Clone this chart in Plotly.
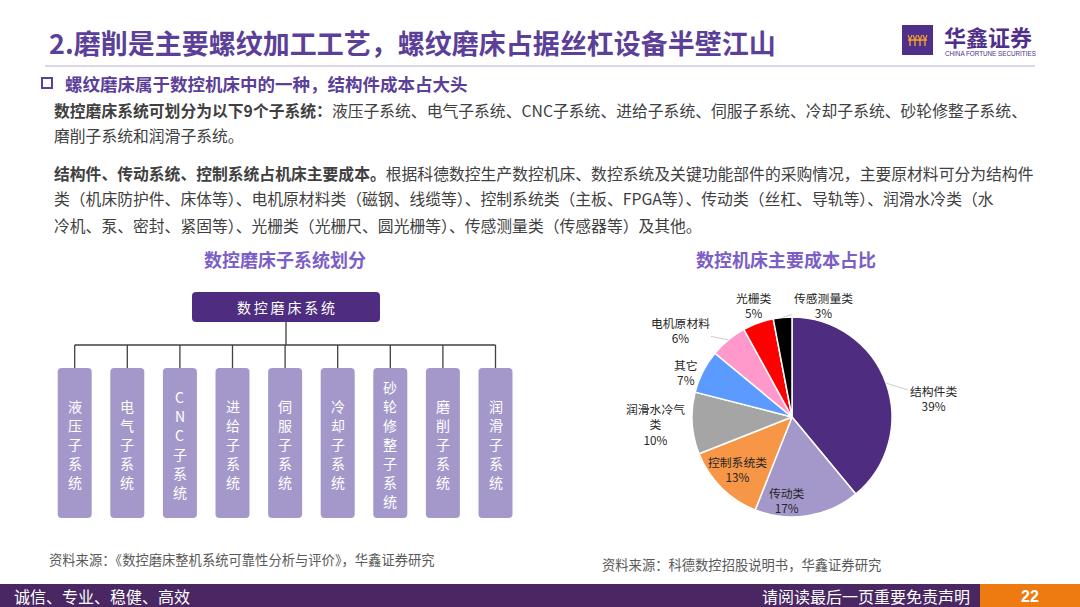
import math
import plotly.graph_objects as go

W, H = 1080, 607
FONT = "Noto Sans CJK SC"

# 数据
root_system = "数控磨床系统"
subsystems = ["液压子系统", "电气子系统", "CNC子系统", "进给子系统", "伺服子系统",
              "冷却子系统", "砂轮修整子系统", "磨削子系统", "润滑子系统"]

cost_items = ["结构件类", "传动类", "控制系统类", "润滑水冷气类", "其它",
              "电机原材料", "光栅类", "传感测量类"]
cost_share = [39, 17, 13, 10, 7, 6, 5, 3]
cost_label_names = ["结构件类", "传动类", "控制系统类", "润滑水冷气<br>类", "其它",
                    "电机原材料", "光栅类", "传感测量类"]
cost_colors = ["#4E2D80", "#A498CB", "#F79646", "#A5A5A5", "#5B9BFF",
               "#FF99CC", "#FF0000", "#000000"]

para_lines = [
    "<b>数控磨床系统可划分为以下9个子系统：</b>液压子系统、电气子系统、CNC子系统、进给子系统、伺服子系统、冷却子系统、砂轮修整子系统、",
    "磨削子系统和润滑子系统。",
    "<b>结构件、传动系统、控制系统占机床主要成本。</b>根据科德数控生产数控机床、数控系统及关键功能部件的采购情况，主要原材料可分为结构件",
    "类（机床防护件、床体等）、电机原材料类（磁钢、线缆等）、控制系统类（主板、FPGA等）、传动类（丝杠、导轨等）、润滑水冷类（水",
    "冷机、泵、密封、紧固等）、光栅类（光栅尺、圆光栅等）、传感测量类（传感器等）及其他。",
]
para_y = [110, 136, 173, 199, 225]


def X(px):
    return px / W


def Y(py):
    return 1 - py / H


def rrect(x0, y0, x1, y1, r):
    return (f"M {X(x0 + r)},{Y(y0)} L {X(x1 - r)},{Y(y0)} Q {X(x1)},{Y(y0)} {X(x1)},{Y(y0 + r)} "
            f"L {X(x1)},{Y(y1 - r)} Q {X(x1)},{Y(y1)} {X(x1 - r)},{Y(y1)} "
            f"L {X(x0 + r)},{Y(y1)} Q {X(x0)},{Y(y1)} {X(x0)},{Y(y1 - r)} "
            f"L {X(x0)},{Y(y0 + r)} Q {X(x0)},{Y(y0)} {X(x0 + r)},{Y(y0)} Z")


shapes = []
annotations = []


def text(x, y, s, size, color, bold=False, anchor="left", family=FONT, pad=1):
    annotations.append(dict(
        x=X(x), y=Y(y), xref="paper", yref="paper", xanchor=anchor, yanchor="middle",
        text=f"<b>{s}</b>" if bold else s, showarrow=False, borderpad=pad,
        font=dict(family=family, size=size, color=color)))


def line(x0, y0, x1, y1, color, width):
    shapes.append(dict(type="line", xref="paper", yref="paper",
                       x0=X(x0), y0=Y(y0), x1=X(x1), y1=Y(y1),
                       line=dict(color=color, width=width)))


# 标题区
text(47, 42, "2.磨削是主要螺纹加工工艺，螺纹磨床占据丝杠设备半壁江山", 27, "#5B3F98", bold=True)
line(45, 66, 1035, 66, "#B9AED3", 1.2)

# logo
shapes.append(dict(type="rect", xref="paper", yref="paper", x0=X(902), y0=Y(55), x1=X(933), y1=Y(25),
                   fillcolor="#4F2F8A", line=dict(width=0)))
line(908, 40, 927, 40, "#F0A030", 1.6)
for lx in [910, 915, 920, 925]:
    line(lx, 40, lx, 46, "#F0A030", 1.4)
    line(lx - 2, 35, lx, 40, "#F0A030", 1.2)
    line(lx + 2, 35, lx, 40, "#F0A030", 1.2)
text(942, 36, "华鑫证券", 22, "#4F2F8A", bold=True)
text(943, 53, "CHINA FORTUNE SECURITIES", 6.3, "#4F2F8A", family="Liberation Sans")

# 小标题
shapes.append(dict(type="rect", xref="paper", yref="paper", x0=X(42), y0=Y(88), x1=X(52), y1=Y(78),
                   line=dict(color="#5B3F98", width=2)))
text(63, 83, "螺纹磨床属于数控机床中的一种，结构件成本占大头", 17.5, "#5B3F98", bold=True)

for s, yy in zip(para_lines, para_y):
    text(52, yy, s, 15.8, "#404040")

text(285, 259, "数控磨床子系统划分", 18, "#7B5EC6", bold=True, anchor="center")
text(786, 259, "数控机床主要成本占比", 18, "#7B5EC6", bold=True, anchor="center")

# 组织结构图
root_cx = 286
shapes.append(dict(type="path", xref="paper", yref="paper", path=rrect(192, 292, 380, 322, 4),
                   fillcolor="#4E2D80", line=dict(width=0)))
text(root_cx, 307, "\u2009".join(root_system), 14, "white", anchor="center")

first_cx, step, bw = 74.7, 52.6, 34
char_gap = 19
centers = [first_cx + i * step for i in range(len(subsystems))]
line(root_cx, 322, root_cx, 345, "#404040", 1.3)
line(centers[0], 345, centers[-1], 345, "#404040", 1.3)
for cx, name in zip(centers, subsystems):
    line(cx, 345, cx, 368, "#404040", 1.3)
    shapes.append(dict(type="path", xref="paper", yref="paper",
                       path=rrect(cx - bw / 2, 368, cx + bw / 2, 518, 4),
                       fillcolor="#A498CB", line=dict(width=0)))
    chars = list(name)
    top = 444 - (len(chars) - 1) * char_gap / 2
    for k, ch in enumerate(chars):
        text(cx, top + k * char_gap, ch, 14, "white", anchor="center", pad=0)

# 饼图
pcx, pcy, pr = 792, 417, 100
pie = go.Pie(
    labels=cost_items, values=cost_share, sort=False, direction="clockwise", rotation=0,
    marker=dict(colors=cost_colors, line=dict(color="white", width=1.5)),
    textinfo="none", hoverinfo="label+percent", showlegend=False,
    domain=dict(x=[X(pcx - pr), X(pcx + pr)], y=[Y(pcy + pr), Y(pcy - pr)]),
)

label_pos = [(933, 398), (787, 500), (737, 469), (655, 424), (686, 372),
             (680, 330), (754, 305), (823, 305)]
leader = [True, False, False, False, False, True, False, True]
cum = 0
for name, v, (lx, ly), ld in zip(cost_label_names, cost_share, label_pos, leader):
    ang = math.radians((cum + v / 2) / sum(cost_share) * 360)
    cum += v
    ex, ey = pcx + pr * math.sin(ang), pcy - pr * math.cos(ang)
    annotations.append(dict(
        x=X(ex), y=Y(ey), xref="paper", yref="paper", ax=lx - ex, ay=ly - ey,
        text=f"{name}<br>{v}%", showarrow=True, arrowhead=0, arrowwidth=0.8,
        arrowcolor="#BFBFBF" if ld else "rgba(0,0,0,0)", standoff=0,
        font=dict(family=FONT, size=11.8, color="#262626")))

# 资料来源
text(47, 559, "资料来源：《数控磨床整机系统可靠性分析与评价》，华鑫证券研究", 13.3, "#595959")
text(600, 564, "资料来源：科德数控招股说明书，华鑫证券研究", 13.3, "#595959")

# 页脚
shapes.append(dict(type="rect", xref="paper", yref="paper", x0=0, y0=0, x1=X(980), y1=Y(584),
                   fillcolor="#4A2763", line=dict(width=0)))
shapes.append(dict(type="rect", xref="paper", yref="paper", x0=X(980), y0=0, x1=1, y1=Y(584),
                   fillcolor="#EE7B11", line=dict(width=0)))
text(12, 596, "诚信、专业、稳健、高效", 16, "white")
text(972, 596, "请阅读最后一页重要免责声明", 16, "white", anchor="right")
text(1030, 596, "22", 16, "white", bold=True, anchor="center", family="Liberation Sans")

fig = go.Figure(data=[pie])
fig.update_layout(
    width=W, height=H, margin=dict(l=0, r=0, t=0, b=0),
    paper_bgcolor="white", plot_bgcolor="white",
    shapes=shapes, annotations=annotations,
)
fig.write_html("out.html", config={"displayModeBar": False},
               post_script="document.body.style.margin='0';")
